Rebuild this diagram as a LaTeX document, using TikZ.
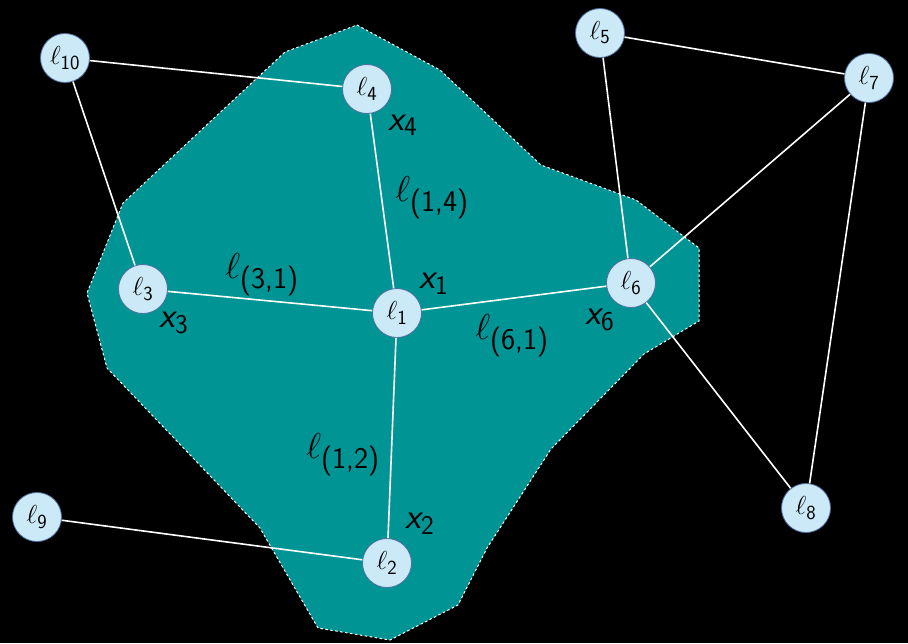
\RequirePackage{fix-cm}
\documentclass[tikz,border=0pt]{standalone}
\usepackage{amsmath}
\definecolor{tealfill}{RGB}{0,148,148}
\definecolor{nodefill}{RGB}{204,233,248}
\definecolor{nodeborder}{RGB}{80,110,160}
\newcommand{\lnode}[1]{$\ell_{\text{\fontsize{20}{22}\selectfont\sffamily #1}}$}
\newcommand{\lsub}[1]{$\ell_{\text{\fontsize{30}{32}\selectfont\sffamily #1}}$}
\newcommand{\xsub}[1]{{\sffamily\slshape x}$_{\text{\fontsize{27}{30}\selectfont\sffamily #1}}$}
\tikzset{
  lm/.style={circle, draw=nodeborder, line width=0.8pt, fill=nodefill, minimum size=49pt, inner sep=0pt, font=\fontsize{26}{28}\selectfont},
  edge/.style={draw=white, line width=1.6pt},
  lbl/.style={font=\fontsize{36}{38}\selectfont, inner sep=0pt, text=black},
  region/.style={fill=tealfill, draw=white, line width=1pt, dash pattern=on 2.5pt off 2.5pt}
}
\begin{document}
\begin{tikzpicture}[x=1pt,y=-1pt]
\fill[black] (0,0) rectangle (908,643);
\useasboundingbox (0,0) rectangle (908,643);
\path[region] (357,25) -- (440,70) -- (541,165) -- (636,200) -- (699,248) -- (699,321) -- (644,354) -- (551,449) -- (487,548) -- (458,605) -- (390,640) -- (318,628) -- (260,528) -- (107,368) -- (87,293) -- (123,203) -- (285,52) -- cycle;

\node[lm] (l1) at (397,313) {\lnode{1}};
\node[lm] (l2) at (387,563) {\lnode{2}};
\node[lm] (l3) at (143,289) {\lnode{3}};
\node[lm] (l4) at (367,89) {\lnode{4}};
\node[lm] (l5) at (600,33) {\lnode{5}};
\node[lm] (l6) at (631,283) {\lnode{6}};
\node[lm] (l7) at (869,78) {\lnode{7}};
\node[lm] (l8) at (806,508) {\lnode{8}};
\node[lm] (l9) at (37,517) {\lnode{9}};
\node[lm] (l10) at (65,58) {\lnode{10}};

\draw[edge] (l10) -- (l4);
\draw[edge] (l10) -- (l3);
\draw[edge] (l4) -- (l1);
\draw[edge] (l3) -- (l1);
\draw[edge] (l1) -- (l6);
\draw[edge] (l1) -- (l2);
\draw[edge] (l2) -- (l9);
\draw[edge] (l5) -- (l6);
\draw[edge] (l5) -- (l7);
\draw[edge] (l7) -- (l6);
\draw[edge] (l7) -- (l8);
\draw[edge] (l6) -- (l8);

\node[lbl] (x4) at (403,125) {\xsub{4}};
\node[lbl] (x1) at (434,284) {\xsub{1}};
\node[lbl] (x3) at (174,323) {\xsub{3}};
\node[lbl] (x6) at (600,320) {\xsub{6}};
\node[lbl] (x2) at (420,524) {\xsub{2}};
\node[lbl] (e14) at (432,198) {\lsub{(1,4)}};
\node[lbl] (e31) at (262,275) {\lsub{(3,1)}};
\node[lbl] (e61) at (512,336) {\lsub{(6,1)}};
\node[lbl] (e12) at (343,455) {\lsub{(1,2)}};
\end{tikzpicture}
\end{document}
